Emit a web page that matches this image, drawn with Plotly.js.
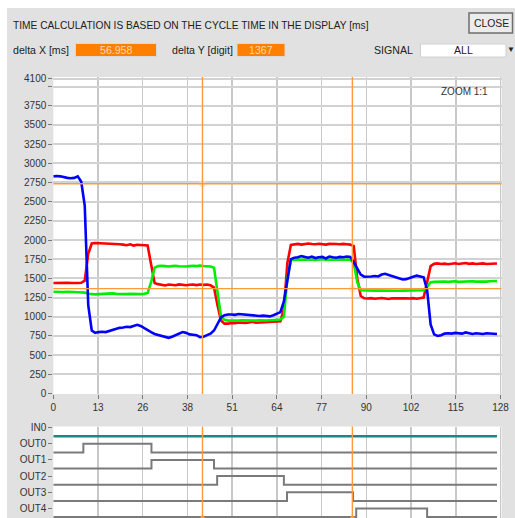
<!DOCTYPE html>
<html>
<head>
<meta charset="utf-8">
<script src="https://cdn.plot.ly/plotly-3.0.1.min.js"></script>
<style>
html,body{margin:0;padding:0;background:#fff;}
#chart{width:515px;height:518px;}
</style>
</head>
<body>
<div id="chart"></div>
<script>
// ---------------- DATA ----------------
const xTickVals = [0, 12.8, 25.6, 38.4, 51.2, 64, 76.8, 89.6, 102.4, 115.2, 128];
const xTickText = ['0', '13', '26', '38', '51', '64', '77', '90', '102', '115', '128'];
const yTickVals = [0, 250, 500, 750, 1000, 1250, 1500, 1750, 2000, 2250, 2500, 2750, 3000, 3250, 3500, 3750, 4000, 4100];
const yTickText = ['0', '250', '500', '750', '1000', '1250', '1500', '1750', '2000', '2250', '2500', '2750', '3000', '3250', '3500', '3750', '', '4100'];

const redValues = [
  1440,1442,1438,1440,1443,1440,1437,1440,1442,1470,
  1820,1955,1962,1960,1958,1962,1955,1958,1950,1945,
  1940,1932,1945,1928,1938,1935,1940,1930,1680,1440,
  1425,1418,1408,1420,1415,1410,1422,1415,1410,1418,
  1420,1412,1420,1415,1420,1410,1380,1150,950,910,
  910,920,915,925,918,920,925,935,922,925,
  930,928,935,930,935,940,1100,1700,1935,1945,
  1950,1940,1945,1955,1948,1945,1952,1945,1940,1950,
  1945,1948,1945,1950,1945,1940,1920,1500,1270,1240,
  1238,1242,1235,1240,1245,1238,1232,1240,1242,1238,
  1245,1240,1238,1242,1235,1240,1250,1450,1660,1690,
  1695,1688,1692,1685,1690,1698,1688,1692,1700,1690,
  1695,1688,1692,1695,1688,1690,1700,1695
];
const greenValues = [
  1325,1322,1320,1322,1325,1320,1322,1320,1318,1315,
  1300,1295,1292,1295,1298,1305,1310,1305,1298,1295,
  1292,1295,1298,1295,1292,1295,1298,1310,1450,1640,
  1660,1665,1660,1655,1660,1665,1658,1652,1655,1660,
  1665,1660,1668,1662,1660,1655,1640,1350,1000,960,
  950,952,948,950,955,952,950,948,952,955,
  950,952,955,958,960,965,1000,1500,1740,1745,
  1748,1742,1745,1750,1745,1740,1745,1750,1742,1745,
  1748,1745,1742,1745,1748,1745,1700,1450,1345,1342,
  1340,1338,1340,1342,1340,1338,1340,1342,1340,1338,
  1340,1342,1340,1338,1340,1342,1345,1390,1450,1455,
  1458,1455,1460,1455,1458,1462,1455,1458,1460,1455,
  1462,1458,1455,1460,1458,1462,1465,1465
];
const blueValues = [
  2830,2835,2830,2815,2810,2805,2810,2830,2760,2450,
  1150,820,790,800,805,800,815,830,850,855,
  860,870,865,880,895,880,850,830,800,775,
  760,745,735,725,740,760,780,800,790,770,
  765,760,735,740,760,780,820,900,990,1020,
  1030,1030,1025,1035,1030,1030,1020,1015,1010,1010,
  1015,1010,1005,1020,1040,1060,1200,1500,1750,1770,
  1775,1790,1775,1770,1785,1765,1775,1780,1760,1785,
  1775,1770,1780,1775,1785,1780,1710,1620,1550,1522,
  1520,1525,1530,1525,1550,1560,1545,1530,1510,1495,
  1485,1490,1510,1520,1535,1525,1515,1350,900,770,
  750,760,780,785,780,790,785,780,795,780,
  775,785,780,775,785,780,780,775
];
const sampleX = redValues.map((v, i) => i);

const cursorX = [42.7, 85.6];
const cursorY = [2734, 1367];

const channelNames = ['IN0', 'OUT0', 'OUT1', 'OUT2', 'OUT3', 'OUT4'];
const channelTimes = [
  [0, 127],
  [0, 8.6, 28.1, 127],
  [0, 28.1, 46.0, 127],
  [0, 46.9, 66.0, 127],
  [0, 66.9, 85.8, 127],
  [0, 86.7, 107.0, 127]
];
const channelStates = [
  [0, 0],
  [0, 1, 0, 0],
  [0, 1, 0, 0],
  [0, 1, 0, 0],
  [0, 1, 0, 0],
  [0, 1, 0, 0]
];

const headerText = 'TIME CALCULATION IS BASED ON THE CYCLE TIME IN THE DISPLAY [ms]';
const deltaXLabel = 'delta X [ms]';
const deltaXValue = '56.958';
const deltaYLabel = 'delta Y [digit]';
const deltaYValue = '1367';
const signalLabel = 'SIGNAL';
const signalValue = 'ALL';
const zoomLabel = 'ZOOM 1:1';

// ---------------- LAYOUT HELPERS ----------------
const W = 515, H = 518;
const PX = x => x / W;
const PY = y => 1 - y / H;
const FONT = 'Liberation Sans, Arial, sans-serif';
const ORANGE = '#ff9a3c';

const chanSpacing = 1.88;
const base = k => (channelNames.length - 1 - k) * chanSpacing;

// ---------------- TRACES ----------------
const traces = [];
traces.push({x: sampleX, y: redValues, type: 'scatter', mode: 'lines', line: {color: '#ff0000', width: 2.6}, xaxis: 'x', yaxis: 'y', hoverinfo: 'skip'});
traces.push({x: sampleX, y: greenValues, type: 'scatter', mode: 'lines', line: {color: '#00ee00', width: 2.6}, xaxis: 'x', yaxis: 'y', hoverinfo: 'skip'});
traces.push({x: sampleX, y: blueValues, type: 'scatter', mode: 'lines', line: {color: '#0000ff', width: 2.6}, xaxis: 'x', yaxis: 'y', hoverinfo: 'skip'});
traces.push({x: cursorX, y: cursorY, type: 'scatter', mode: 'markers', marker: {symbol: 'circle-x-open', size: 6, color: '#ffe2c4', line: {width: 1}}, xaxis: 'x', yaxis: 'y', hoverinfo: 'skip'});

channelNames.forEach((name, k) => {
  traces.push({
    x: channelTimes[k],
    y: channelStates[k].map(s => base(k) + s),
    type: 'scatter', mode: 'lines',
    line: {shape: 'hv', color: k === 0 ? '#1a8a80' : '#7a7a7a', width: k === 0 ? 2.6 : 2},
    xaxis: 'x2', yaxis: 'y2', hoverinfo: 'skip'
  });
});
traces.push({x: cursorX, y: [-0.05, -0.05], type: 'scatter', mode: 'markers', marker: {symbol: 'triangle-up', size: 6, color: ORANGE}, xaxis: 'x2', yaxis: 'y2', cliponaxis: false, hoverinfo: 'skip'});

// ---------------- SHAPES ----------------
const shapes = [
  {type: 'rect', xref: 'paper', yref: 'paper', x0: 0, x1: PX(7), y0: 0, y1: 1, fillcolor: '#ffffff', line: {width: 0}, layer: 'below'},
  {type: 'rect', xref: 'paper', yref: 'paper', x0: 0, x1: 1, y0: PY(8), y1: 1, fillcolor: '#ffffff', line: {width: 0}, layer: 'below'},
  {type: 'rect', xref: 'paper', yref: 'paper', x0: PX(469), x1: PX(512.5), y0: PY(33), y1: PY(13), fillcolor: '#ececec', line: {color: '#6e6e6e', width: 1.5}},
  {type: 'rect', xref: 'paper', yref: 'paper', x0: PX(75.5), x1: PX(156.5), y0: PY(56.5), y1: PY(43.5), fillcolor: '#ff8000', line: {color: '#d9d9d9', width: 1}},
  {type: 'rect', xref: 'paper', yref: 'paper', x0: PX(237), x1: PX(285), y0: PY(56.5), y1: PY(43.5), fillcolor: '#ff8000', line: {color: '#d9d9d9', width: 1}},
  {type: 'rect', xref: 'paper', yref: 'paper', x0: PX(420.5), x1: PX(506), y0: PY(57), y1: PY(44), fillcolor: '#ffffff', line: {color: '#d0d0d0', width: 1}}
];
cursorX.forEach(cx => {
  shapes.push({type: 'line', xref: 'x', yref: 'y domain', x0: cx, x1: cx, y0: 0, y1: 1, line: {color: ORANGE, width: 1.4}});
  shapes.push({type: 'line', xref: 'x2', yref: 'y2 domain', x0: cx, x1: cx, y0: 0, y1: 1, line: {color: ORANGE, width: 1.4}});
});
cursorY.forEach(cy => {
  shapes.push({type: 'line', xref: 'x domain', yref: 'y', x0: 0, x1: 1, y0: cy, y1: cy, line: {color: ORANGE, width: 1.4}});
});

// ---------------- ANNOTATIONS ----------------
const ann = (text, x, y, opts = {}) => Object.assign({
  text, xref: 'paper', yref: 'paper', x: PX(x), y: PY(y), showarrow: false,
  xanchor: 'left', yanchor: 'middle', font: {family: FONT, size: 10.6, color: '#222'}
}, opts);
const annotations = [
  ann(headerText, 11, 25, {font: {family: FONT, size: 10.2, color: '#222'}}),
  ann('CLOSE', 491, 23.5, {xanchor: 'center', font: {family: FONT, size: 10.4, color: '#222'}}),
  ann(deltaXLabel, 11, 50),
  ann(deltaXValue, 116, 50, {xanchor: 'center', font: {family: FONT, size: 10.6, color: '#ffd8b0'}}),
  ann(deltaYLabel, 170, 50),
  ann(deltaYValue, 261, 50, {xanchor: 'center', font: {family: FONT, size: 10.6, color: '#ffd8b0'}}),
  ann(signalLabel, 372, 50),
  ann(signalValue, 463, 50.5, {xanchor: 'center'}),
  ann('▼', 511, 49.5, {xanchor: 'center', font: {family: FONT, size: 8, color: '#222'}}),
  ann(zoomLabel, 490, 92, {xanchor: 'right', font: {family: FONT, size: 10, color: '#333'}})
];

// ---------------- LAYOUT ----------------
const xDomain = [PX(53.3), PX(501.5)];
const xRange = [0, 128.29];
const tickFont = {family: FONT, size: 10, color: '#333'};

const layout = {
  width: W, height: H,
  margin: {l: 0, r: 0, t: 0, b: 0},
  paper_bgcolor: '#e1e1e1',
  plot_bgcolor: '#ffffff',
  showlegend: false,
  xaxis: {
    domain: xDomain, range: xRange, anchor: 'y',
    tickmode: 'array', tickvals: xTickVals, ticktext: xTickText,
    ticks: 'outside', ticklen: 4, tickcolor: '#777', tickwidth: 1,
    showgrid: true, gridcolor: '#c8c8c8', gridwidth: 1.5,
    zeroline: false, showline: false, tickfont: tickFont, fixedrange: true
  },
  yaxis: {
    domain: [PY(394), PY(77)], range: [-7, 4125], anchor: 'x',
    tickmode: 'array', tickvals: yTickVals, ticktext: yTickText,
    ticks: 'outside', ticklen: 4, tickcolor: '#777', tickwidth: 1,
    showgrid: true, gridcolor: '#d2d2d2', gridwidth: 2,
    zeroline: false, showline: false, tickfont: tickFont, fixedrange: true
  },
  xaxis2: {
    domain: xDomain, range: xRange, anchor: 'y2',
    tickmode: 'array', tickvals: xTickVals, showticklabels: false, ticks: '',
    showgrid: true, gridcolor: '#c8c8c8', gridwidth: 1.5,
    zeroline: false, showline: false, fixedrange: true
  },
  yaxis2: {
    domain: [0, PY(426.5)], range: [-0.11, 10.53], anchor: 'x2',
    tickmode: 'array', tickvals: channelNames.map((n, k) => base(k) + 1), ticktext: channelNames,
    ticks: 'outside', ticklen: 4, tickcolor: '#777', tickwidth: 1,
    showgrid: false, zeroline: false, showline: false, tickfont: tickFont, fixedrange: true
  },
  shapes, annotations
};

Plotly.newPlot('chart', traces, layout, {staticPlot: true, displayModeBar: false});
</script>
</body>
</html>
